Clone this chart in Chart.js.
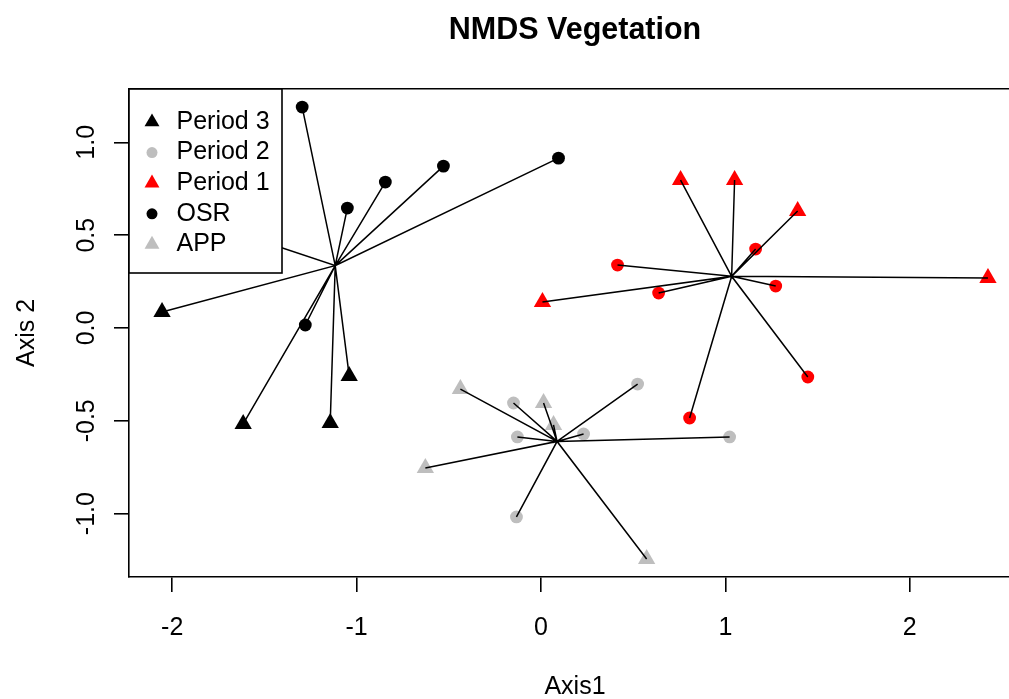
<!DOCTYPE html>
<html>
<head>
<meta charset="utf-8">
<title>NMDS Vegetation</title>
<script src="https://cdn.jsdelivr.net/npm/chart.js@4.4.1/dist/chart.umd.min.js"></script>
<style>
  html, body { margin: 0; padding: 0; background: #ffffff; overflow: hidden; }
  /* the plot frame runs past the right edge of the page, as in the exported figure */
  #wrap { width: 1009px; height: 699px; overflow: hidden; position: relative; }
  #nmds { position: absolute; left: 0; top: 0; }
</style>
</head>
<body>
<div id="wrap"><canvas id="nmds" width="1031" height="699"></canvas></div>
<script>
// ---- labels ----
const chartTitle = 'NMDS Vegetation';
const xAxisTitle = 'Axis1';
const yAxisTitle = 'Axis 2';
const xTicks = [-2, -1, 0, 1, 2];
const yTicks = [-1.0, -0.5, 0.0, 0.5, 1.0];
const legendLabels = ['Period 3', 'Period 2', 'Period 1', 'OSR', 'APP'];

// ---- NMDS site scores [Axis1, Axis2] ----
// Period 1
const osrPeriod1 = [[0.415, 0.339], [0.638, 0.188], [1.164, 0.425], [1.273, 0.226], [1.447, -0.264], [0.806, -0.485]];
const appPeriod1 = [[0.008, 0.140], [0.757, 0.797], [1.050, 0.797], [1.392, 0.630], [2.424, 0.269]];
// Period 2
const osrPeriod2 = [[-0.149, -0.404], [-0.128, -0.587], [0.231, -0.571], [0.524, -0.302], [1.023, -0.587], [-0.133, -1.018]];
const appPeriod2 = [[-0.437, -0.329], [0.014, -0.404], [0.068, -0.522], [-0.627, -0.754], [0.573, -1.244]];
// Period 3
const osrPeriod3 = [[-1.295, 1.190], [-0.529, 0.872], [-0.844, 0.786], [-1.050, 0.646], [0.095, 0.915], [-1.278, 0.016]];
const appPeriod3 = [[-2.055, 0.086], [-1.615, -0.517], [-1.143, -0.512], [-1.040, -0.258], [-1.520, 0.470]];

// ---- styling ----
const FONT = '"Liberation Sans", Arial, Helvetica, sans-serif';
const RED = '#FF0000', GREY = '#BEBEBE', BLACK = '#000000';
const CIRCLE_R = 6.4, TRIANGLE_R = 10;
const TEXT_SIZE = 25;

const toXY = pts => pts.map(p => ({ x: p[0], y: p[1] }));

// centroid of a group, and the spider path centroid -> site -> centroid -> ...
function centroid(pts) {
  const n = pts.length;
  return [pts.reduce((s, p) => s + p[0], 0) / n, pts.reduce((s, p) => s + p[1], 0) / n];
}
function spider(pts) {
  const c = centroid(pts);
  const out = [];
  pts.forEach(p => { out.push({ x: c[0], y: c[1] }); out.push({ x: p[0], y: p[1] }); });
  return out;
}

// axis limits extended by 4% on each side of the data range
function limits(vals) {
  const lo = Math.min(...vals), hi = Math.max(...vals), pad = (hi - lo) * 0.04;
  return [lo - pad, hi + pad];
}
const allPts = [].concat(osrPeriod1, appPeriod1, osrPeriod2, appPeriod2, osrPeriod3, appPeriod3);
const xLim = limits(allPts.map(p => p[0]));
const yLim = limits(allPts.map(p => p[1]));

const group1 = osrPeriod1.concat(appPeriod1);
const group2 = osrPeriod2.concat(appPeriod2);
const group3 = osrPeriod3.concat(appPeriod3);

function spiderSet(pts) {
  return {
    data: spider(pts), showLine: true, borderColor: BLACK, borderWidth: 1.5,
    pointRadius: 0, pointHoverRadius: 0, tension: 0, fill: false, order: 0
  };
}
function pointSet(pts, color, style) {
  const r = style === 'triangle' ? TRIANGLE_R : CIRCLE_R;
  return {
    data: toXY(pts), showLine: false, pointStyle: style,
    pointRadius: r, pointHoverRadius: r,
    backgroundColor: color, borderColor: color, pointBorderWidth: 0, borderWidth: 0, order: 1
  };
}

// legend box in the upper-left corner of the plot region, drawn over the data
const legendStyles = [
  { style: 'triangle', color: BLACK },
  { style: 'circle', color: GREY },
  { style: 'triangle', color: RED },
  { style: 'circle', color: BLACK },
  { style: 'triangle', color: GREY }
];
const insetLegend = {
  id: 'insetLegend',
  afterDatasetsDraw(chart) {
    const ctx = chart.ctx, a = chart.chartArea;
    const left = a.left, top = a.top, w = 153, h = 184;
    ctx.save();
    ctx.fillStyle = '#ffffff';
    ctx.fillRect(left, top, w, h);
    ctx.strokeStyle = BLACK;
    ctx.lineWidth = 1.6;
    ctx.strokeRect(left, top, w, h);
    ctx.font = TEXT_SIZE + 'px ' + FONT;
    ctx.textBaseline = 'middle';
    ctx.textAlign = 'left';
    legendLabels.forEach((lab, i) => {
      const y = top + 33 + i * 30.6;
      const st = legendStyles[i];
      ctx.fillStyle = st.color;
      Chart.helpers.drawPoint(ctx, {
        pointStyle: st.style, radius: st.style === 'triangle' ? 8.6 : 5.5, rotation: 0, borderWidth: 0
      }, left + 23, y);
      ctx.fillStyle = BLACK;
      ctx.fillText(lab, left + 47.5, y);
    });
    ctx.restore();
  }
};

Chart.defaults.color = BLACK;
Chart.defaults.font.family = FONT;

new Chart(document.getElementById('nmds'), {
  type: 'scatter',
  data: {
    datasets: [
      spiderSet(group3), spiderSet(group1), spiderSet(group2),
      pointSet(osrPeriod3, BLACK, 'circle'), pointSet(appPeriod3, BLACK, 'triangle'),
      pointSet(osrPeriod1, RED, 'circle'), pointSet(appPeriod1, RED, 'triangle'),
      pointSet(osrPeriod2, GREY, 'circle'), pointSet(appPeriod2, GREY, 'triangle')
    ]
  },
  options: {
    responsive: false,
    animation: false,
    devicePixelRatio: 1,
    layout: { padding: 0 },
    plugins: { legend: { display: false }, tooltip: { enabled: false }, title: { display: false } },
    scales: {
      x: {
        type: 'linear', position: 'bottom', min: xLim[0], max: xLim[1],
        afterBuildTicks: s => { s.ticks = xTicks.map(v => ({ value: v })); },
        afterFit: s => { s.height = 122; },
        ticks: { callback: v => String(v), font: { size: TEXT_SIZE }, color: BLACK, padding: 21, maxRotation: 0, autoSkip: false },
        grid: { display: true, drawOnChartArea: false, drawTicks: true, tickLength: 15, color: BLACK, lineWidth: 1.6 },
        border: { display: true, color: BLACK, width: 1.6 },
        title: { display: true, text: xAxisTitle, color: BLACK, font: { size: TEXT_SIZE, lineHeight: 1 }, padding: { top: 0, bottom: -1 } }
      },
      y: {
        type: 'linear', position: 'left', min: yLim[0], max: yLim[1],
        afterBuildTicks: s => { s.ticks = yTicks.map(v => ({ value: v })); },
        afterFit: s => { s.width = 129; },
        ticks: { callback: v => v.toFixed(1), font: { size: TEXT_SIZE }, color: BLACK, padding: 5, minRotation: 90, maxRotation: 90, crossAlign: 'center', autoSkip: false },
        grid: { display: true, drawOnChartArea: false, drawTicks: true, tickLength: 15, color: BLACK, lineWidth: 1.6 },
        border: { display: true, color: BLACK, width: 1.6 },
        title: { display: true, text: yAxisTitle, color: BLACK, font: { size: TEXT_SIZE, lineHeight: 1 }, padding: { top: 14.5, bottom: 0 } }
      },
      x2: {
        type: 'linear', position: 'top', min: 0, max: 1,
        afterFit: s => { s.height = 89; },
        ticks: { display: false },
        grid: { display: false, drawTicks: false },
        border: { display: true, color: BLACK, width: 1.6 },
        title: { display: true, text: chartTitle, color: BLACK, font: { size: 30.5, weight: 'bold', lineHeight: 1.2 }, padding: { top: 12, bottom: 0 } }
      }
    }
  },
  plugins: [insetLegend]
});
</script>
</body>
</html>
